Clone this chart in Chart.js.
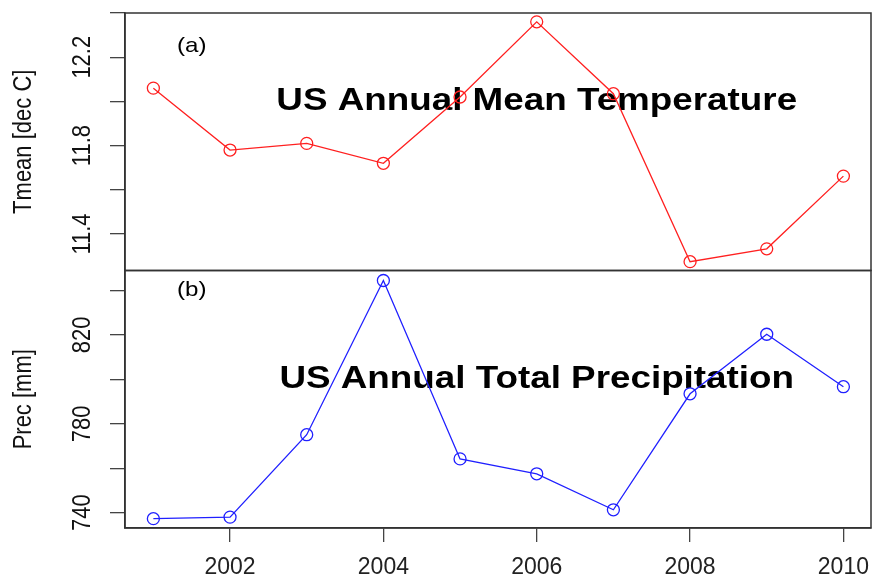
<!DOCTYPE html>
<html>
<head>
<meta charset="utf-8">
<script src="https://cdn.jsdelivr.net/npm/chart.js@4"></script>
<style>
  html, body { margin: 0; padding: 0; background: #fff; }
</style>
</head>
<body>
<canvas id="grafico" width="873" height="581"></canvas>
<script>
// dati
const anni = [2001, 2002, 2003, 2004, 2005, 2006, 2007, 2008, 2009, 2010];
const tmean = [12.06, 11.78, 11.81, 11.72, 12.02, 12.36, 12.035, 11.275, 11.333, 11.662];
const prec = [737.3, 738.0, 775.1, 844.5, 764.2, 757.5, 741.3, 793.5, 820.3, 796.7];

const tickAnni = [2002, 2004, 2006, 2008, 2010];
const tickTmean = [11.4, 11.6, 11.8, 12.0, 12.2, 12.4];
const etichetteTmean = ['11.4', '', '11.8', '', '12.2', ''];
const tickPrec = [740, 760, 780, 800, 820, 840];
const etichettePrec = ['740', '', '780', '', '820', ''];

const FONT = 'Liberation Sans, Arial, sans-serif';
Chart.defaults.font.family = FONT;

function punti(valori) {
  return anni.map((a, i) => ({ x: a, y: valori[i] }));
}

// testo "stirato" in orizzontale come nell'originale
function scritta(ctx, testo, x, y, font, stira) {
  ctx.save();
  ctx.translate(x, y);
  ctx.scale(stira, 1);
  ctx.font = font;
  ctx.fillStyle = '#000';
  ctx.textAlign = 'center';
  ctx.textBaseline = 'middle';
  ctx.fillText(testo, 0, 0);
  ctx.restore();
}

function scrittaVerticale(ctx, testo, x, y, font) {
  ctx.save();
  ctx.translate(x, y);
  ctx.rotate(-Math.PI / 2);
  ctx.scale(1, 1.15);
  ctx.font = font;
  ctx.fillStyle = '#111';
  ctx.textAlign = 'center';
  ctx.textBaseline = 'alphabetic';
  ctx.fillText(testo, 0, 0);
  ctx.restore();
}

const testi = {
  id: 'testi',
  beforeDatasetsDraw(chart) {
    const ctx = chart.ctx;
    const x = chart.scales.x, yT = chart.scales.yT, yB = chart.scales.yB;
    scritta(ctx, 'US Annual Mean Temperature', x.getPixelForValue(2006), yT.getPixelForValue(12.0), 'bold 32px ' + FONT, 1.15);
    scritta(ctx, 'US Annual Total Precipitation', x.getPixelForValue(2006), yB.getPixelForValue(800), 'bold 32px ' + FONT, 1.15);
    scritta(ctx, '(a)', x.getPixelForValue(2001.5), yT.getPixelForValue(12.25), '21px ' + FONT, 1.15);
    scritta(ctx, '(b)', x.getPixelForValue(2001.5), yB.getPixelForValue(840), '21px ' + FONT, 1.15);
  },
  afterDraw(chart) {
    const ctx = chart.ctx;
    const area = chart.chartArea;
    const pannelli = [
      [chart.scales.yT, etichetteTmean, 'Tmean [dec C]'],
      [chart.scales.yB, etichettePrec, 'Prec [mm]']
    ];
    pannelli.forEach(([s, etichette, titolo]) => {
      ctx.save();
      ctx.strokeStyle = '#333';
      ctx.lineWidth = 1.5;
      ctx.strokeRect(area.left, s.top, area.right - area.left, s.bottom - s.top);
      ctx.restore();
      s.ticks.forEach((t, i) => {
        if (etichette[i]) scrittaVerticale(ctx, etichette[i], 90, s.getPixelForValue(t.value), '22px ' + FONT);
      });
      scrittaVerticale(ctx, titolo, 31, (s.top + s.bottom) / 2, '22px ' + FONT);
    });
  }
};

function assey(min, max, valori) {
  return {
    type: 'linear',
    position: 'left',
    stack: 'pannelli',
    stackWeight: 1,
    min: min,
    max: max,
    afterBuildTicks: s => { s.ticks = valori.map(v => ({ value: v })); },
    afterFit: s => { s.width = 125; s.paddingTop = 0; s.paddingBottom = 0; },
    ticks: { display: false },
    grid: { drawOnChartArea: false, drawTicks: true, tickLength: 15, color: '#444', lineWidth: 1.3 },
    border: { display: true, color: '#333', width: 1.5 }
  };
}

const grafico = new Chart(document.getElementById('grafico'), {
  type: 'line',
  data: {
    datasets: [
      {
        label: 'Tmean',
        data: punti(tmean),
        xAxisID: 'x',
        yAxisID: 'yT',
        borderColor: '#ff2020',
        borderWidth: 1.3,
        pointRadius: 6,
        pointBorderWidth: 1.3,
        pointBorderColor: '#ff2020',
        pointBackgroundColor: 'rgba(0,0,0,0)',
        tension: 0
      },
      {
        label: 'Prec',
        data: punti(prec),
        xAxisID: 'x',
        yAxisID: 'yB',
        borderColor: '#2020ff',
        borderWidth: 1.3,
        pointRadius: 6,
        pointBorderWidth: 1.3,
        pointBorderColor: '#2020ff',
        pointBackgroundColor: 'rgba(0,0,0,0)',
        tension: 0
      }
    ]
  },
  options: {
    responsive: false,
    animation: false,
    devicePixelRatio: 1,
    layout: { autoPadding: false, padding: { top: 13, right: 2, left: 0, bottom: 0 } },
    plugins: {
      legend: { display: false },
      tooltip: { enabled: false }
    },
    scales: {
      x: {
        type: 'linear',
        position: 'bottom',
        min: 2000.63,
        max: 2010.36,
        afterBuildTicks: s => { s.ticks = tickAnni.map(v => ({ value: v })); },
        afterFit: s => { s.height = 53; s.paddingLeft = 0; s.paddingRight = 0; },
        ticks: { font: { size: 23 }, color: '#222', padding: 12, maxRotation: 0, callback: v => String(v) },
        grid: { drawOnChartArea: false, drawTicks: true, tickLength: 14, color: '#444', lineWidth: 1.3 },
        border: { display: true, color: '#333', width: 1.5 }
      },
      // il pannello definito per ultimo finisce in alto
      yB: assey(733.1, 849, tickPrec),
      yT: assey(11.235, 12.40, tickTmean)
    }
  },
  plugins: [testi]
});
</script>
</body>
</html>
